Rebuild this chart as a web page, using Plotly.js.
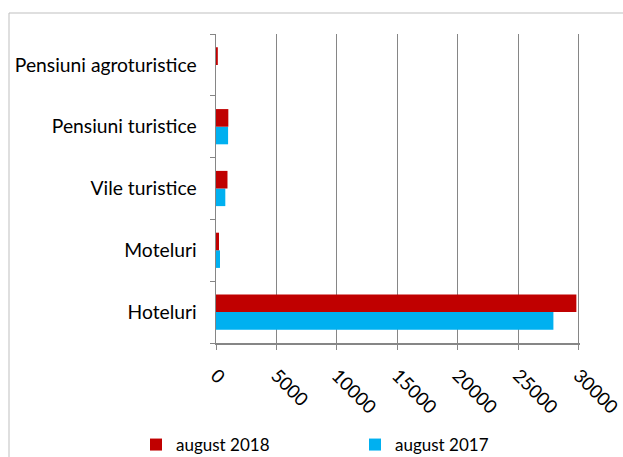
<!DOCTYPE html>
<html>
<head>
<meta charset="utf-8">
<script src="https://cdn.plot.ly/plotly-3.0.1.min.js"></script>
<style>html,body{margin:0;padding:0;background:#fff;}#chart{width:623px;height:457px;}</style>
</head>
<body>
<div id="chart"></div>
<script>
const categories = ["Hoteluri", "Moteluri", "Vile turistice", "Pensiuni turistice", "Pensiuni agroturistice"];
const values2018 = [29800, 250, 950, 1020, 150];
const values2017 = [27900, 330, 770, 1000, 0];
const xTicks = [0, 5000, 10000, 15000, 20000, 25000, 30000];

const L = 216, R = 580, T = 34, B = 343, W = 623, H = 457;
const pw = R - L, ph = B - T;
function px(x){ return (x - L) / pw; }
function py(y){ return (B - y) / ph; }

const font = "Lato, 'Open Sans', sans-serif";

const traces = [
  {type: "bar", orientation: "h", name: "august 2017", y: categories, x: values2017,
   marker: {color: "#00B0F0"}, legendrank: 2},
  {type: "bar", orientation: "h", name: "august 2018", y: categories, x: values2018,
   marker: {color: "#C00000"}, legendrank: 1}
];

const layout = {
  width: W, height: H,
  margin: {l: L, r: W - R, t: T, b: H - B, pad: 0, autoexpand: false},
  paper_bgcolor: "#fff", plot_bgcolor: "#fff",
  font: {family: font, size: 18.5, color: "#000"},
  barmode: "group", bargap: 0.43, bargroupgap: 0,
  showlegend: true,
  legend: {orientation: "h", x: px(136), xanchor: "left", y: py(445), yanchor: "middle",
           entrywidth: 174, entrywidthmode: "pixels", font: {family: font, size: 17, color: "#000"},
           traceorder: "normal"},
  xaxis: {range: [0, 30100], tickvals: xTicks, ticktext: xTicks.map(String), tickangle: 45,
          showgrid: true, gridcolor: "#868686", gridwidth: 1,
          showline: true, linecolor: "#868686", linewidth: 1.5, automargin: false,
          ticks: "outside", ticklen: 5, tickcolor: "#868686", ticklabelstandoff: 8,
          ticklabeloverflow: "allow",
          zeroline: false, tickfont: {family: font, size: 18.5}, fixedrange: true},
  yaxis: {type: "category", categoryorder: "array", categoryarray: categories,
          showline: true, linecolor: "#868686", linewidth: 1.5, automargin: false,
          ticks: "outside", ticklen: 5, tickcolor: "#868686", tickson: "boundaries",
          ticklabelstandoff: 14,
          showgrid: false, tickfont: {family: font, size: 19.3}, fixedrange: true},
  shapes: [
    {type: "rect", xref: "paper", yref: "paper", x0: px(9), x1: px(640), y0: py(470), y1: py(13),
     line: {color: "#BFBFBF", width: 1}, fillcolor: "rgba(0,0,0,0)", layer: "below"}
  ]
};

Plotly.newPlot("chart", traces, layout, {displayModeBar: false, staticPlot: true});
</script>
</body>
</html>
